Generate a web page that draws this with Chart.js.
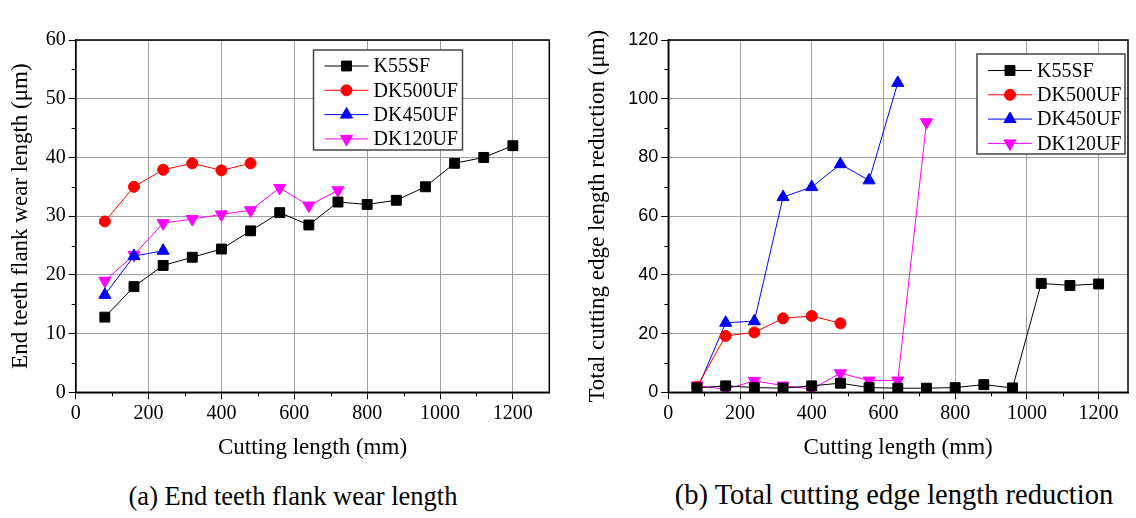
<!DOCTYPE html>
<html>
<head>
<meta charset="utf-8">
<title>Tool wear</title>
<script src="https://cdn.jsdelivr.net/npm/chart.js@4.4.1/dist/chart.umd.min.js"></script>
<style>
  body { margin: 0; background: #fff; width: 1136px; height: 518px; position: relative; overflow: hidden; font-family: "Liberation Serif", "Times New Roman", serif; }
  .wrap { position: absolute; top: 0; }
  #wrapA { left: 0; }
  #wrapB { left: 575px; }
  .cap { position: absolute; top: 481px; font-size: 26.5px; color: #000; white-space: nowrap; transform: translateX(-50%); }
  .cap.b { font-size: 28.5px; top: 479px; }
</style>
</head>
<body>
<div class="wrap" id="wrapA"><canvas id="chartA" width="560" height="464"></canvas></div>
<div class="wrap" id="wrapB"><canvas id="chartB" width="561" height="464"></canvas></div>
<div class="cap" style="left:293px">(a) End teeth flank wear length</div>
<div class="cap b" style="left:894px">(b) Total cutting edge length reduction</div>

<script>
// ---- data ----
const cutLength = [80, 160, 240, 320, 400, 480, 560, 640, 720, 800, 880, 960, 1040, 1120, 1200];
const seriesNames = ['K55SF', 'DK500UF', 'DK450UF', 'DK120UF'];

// (a) end teeth flank wear length, um
const wearK55SF   = [12.8, 18.0, 21.6, 23.0, 24.4, 27.5, 30.6, 28.5, 32.4, 32.0, 32.7, 35.0, 39.0, 40.0, 42.0];
const wearDK500UF = [29.1, 35.0, 37.9, 39.0, 37.8, 39.0];
const wearDK450UF = [16.6, 23.2, 24.1];
const wearDK120UF = [19.0, 23.4, 28.8, 29.5, 30.3, 31.0, 34.8, 31.8, 34.4];

// (b) total cutting edge length reduction, um
const redK55SF   = [1.5, 2.2, 1.6, 1.4, 2.2, 3.1, 1.6, 1.4, 1.4, 1.6, 2.6, 1.5, 37.1, 36.4, 36.9];
const redDK500UF = [1.9, 19.2, 20.4, 25.2, 26.0, 23.5];
const redDK450UF = [0.8, 23.7, 24.2, 66.5, 69.9, 77.7, 72.2, 105.4];
const redDK120UF = [2.3, 1.0, 3.9, 2.3, 1.1, 6.5, 4.0, 4.0, 92.0];

// tick labels
const xTicks = [0, 200, 400, 600, 800, 1000, 1200];
const wearTicks = [0, 10, 20, 30, 40, 50, 60];
const redTicks = [0, 20, 40, 60, 80, 100, 120];

// ---- styles ----
const seriesStyle = [
  { color: '#000000', pointStyle: 'rect',     radius: 7,   rotation: 0 },
  { color: '#ff0000', pointStyle: 'circle',   radius: 5.5, rotation: 0 },
  { color: '#0000ff', pointStyle: 'triangle', radius: 7,   rotation: 0 },
  { color: '#ff00ff', pointStyle: 'triangle', radius: 7,   rotation: 180 }
];
const SERIF = '"Liberation Serif", "Times New Roman", serif';
const SANS = '"Liberation Sans", Arial, sans-serif';

function makeDatasets(seriesList) {
  return seriesList.map((vals, i) => {
    const s = seriesStyle[i];
    return {
      label: seriesNames[i],
      data: vals.map((v, k) => ({ x: cutLength[k], y: v })),
      borderColor: s.color,
      backgroundColor: s.color,
      borderWidth: 1,
      pointStyle: s.pointStyle,
      pointRadius: s.radius,
      pointRotation: s.rotation,
      pointBackgroundColor: s.color,
      pointBorderColor: s.color,
      pointBorderWidth: 1,
      tension: 0
    };
  });
}

// frame round the plot + small outward minor ticks
const framePlugin = {
  id: 'frame',
  afterDraw(chart, args, o) {
    const { ctx, chartArea: a, scales } = chart;
    ctx.save();
    ctx.strokeStyle = '#000';
    ctx.lineWidth = 1;
    ctx.beginPath();
    for (let v = o.xMinor; v < scales.x.max; v += o.xMinor * 2) {
      const px = Math.round(scales.x.getPixelForValue(v)) + 0.5;
      ctx.moveTo(px, a.bottom);
      ctx.lineTo(px, a.bottom + 4);
    }
    for (let v = o.yMinor; v < scales.y.max; v += o.yMinor * 2) {
      const py = Math.round(scales.y.getPixelForValue(v)) + 0.5;
      ctx.moveTo(a.left, py);
      ctx.lineTo(a.left - 4, py);
    }
    ctx.stroke();
    ctx.lineWidth = 1.5;
    ctx.strokeRect(a.left, a.top, a.right - a.left, a.bottom - a.top);
    ctx.restore();
  }
};

// boxed legend inside the plot
const boxLegend = {
  id: 'boxLegend',
  afterDraw(chart, args, o) {
    const ctx = chart.ctx;
    ctx.save();
    ctx.fillStyle = '#fff';
    ctx.fillRect(o.x, o.y, o.w, o.h);
    ctx.strokeStyle = '#444';
    ctx.lineWidth = 1.5;
    ctx.strokeRect(o.x, o.y, o.w, o.h);
    chart.data.datasets.forEach((ds, i) => {
      const cy = o.y + o.first + i * o.row;
      ctx.strokeStyle = ds.borderColor;
      ctx.lineWidth = 1;
      ctx.beginPath();
      ctx.moveTo(o.x + 11, cy);
      ctx.lineTo(o.x + 55, cy);
      ctx.stroke();
      ctx.fillStyle = ds.pointBackgroundColor;
      Chart.helpers.drawPoint(ctx, {
        pointStyle: ds.pointStyle, radius: ds.pointRadius,
        rotation: ds.pointRotation, borderWidth: 1
      }, o.x + 33, cy);
      ctx.fillStyle = '#000';
      ctx.font = '20px ' + SERIF;
      ctx.textBaseline = 'middle';
      ctx.textAlign = 'left';
      ctx.fillText(ds.label, o.x + 60, cy + 1);
    });
    ctx.restore();
  }
};

function makeChart(id, cfg) {
  return new Chart(document.getElementById(id), {
    type: 'line',
    data: { datasets: makeDatasets(cfg.series) },
    plugins: [framePlugin, boxLegend],
    options: {
      responsive: false,
      animation: false,
      events: [],
      layout: { padding: { top: 40, right: cfg.padRight, left: 0, bottom: 0 } },
      plugins: {
        legend: { display: false },
        tooltip: { enabled: false },
        frame: { xMinor: 100, yMinor: cfg.yMinor },
        boxLegend: cfg.legend
      },
      scales: {
        x: {
          type: 'linear',
          min: 0,
          max: cfg.xMax,
          afterBuildTicks: s => { s.ticks = xTicks.map(v => ({ value: v })); },
          afterFit: s => { s.height = 464 - 392.3; },
          grid: { color: '#a0a0a0', lineWidth: 1, tickColor: '#000', tickLength: 7 },
          border: { display: true, color: '#000', width: 1.5 },
          ticks: { color: '#000', padding: 2, maxRotation: 0, callback: v => String(v), font: { family: SERIF, size: 20 } },
          title: {
            display: true, text: 'Cutting length (mm)', color: '#000',
            padding: { top: 0, bottom: 2 }, font: { family: SERIF, size: 23 }
          }
        },
        y: {
          min: 0,
          max: cfg.yTicks[cfg.yTicks.length - 1],
          afterBuildTicks: s => { s.ticks = cfg.yTicks.map(v => ({ value: v })); },
          afterFit: s => { s.width = cfg.areaLeft; },
          grid: { color: '#a0a0a0', lineWidth: 1, tickColor: '#000', tickLength: 7 },
          border: { display: true, color: '#000', width: 1.5 },
          ticks: { color: '#000', padding: 3, callback: v => String(v), font: { family: cfg.yFont, size: cfg.yFontSize } },
          title: {
            display: true, text: cfg.yTitle, color: '#000',
            padding: { top: cfg.yTitlePad, bottom: 0 }, font: { family: SERIF, size: 23 }
          }
        }
      }
    }
  });
}

makeChart('chartA', {
  series: [wearK55SF, wearDK500UF, wearDK450UF, wearDK120UF],
  xMax: 1300,
  padRight: 10.7,
  areaLeft: 75.7,
  yTicks: wearTicks,
  yMinor: 5,
  yFont: SERIF,
  yFontSize: 20,
  yTitle: 'End teeth flank wear length (\u03bcm)',
  yTitlePad: 7,
  legend: { x: 313.5, y: 50, w: 149, h: 100, first: 16, row: 24.3 }
});

makeChart('chartB', {
  series: [redK55SF, redDK500UF, redDK450UF, redDK120UF],
  xMax: 1282,
  padRight: 1,
  areaLeft: 93.3,
  yTicks: redTicks,
  yMinor: 10,
  yFont: SANS,
  yFontSize: 18,
  yTitle: 'Total cutting edge length reduction (\u03bcm)',
  yTitlePad: 9,
  legend: { x: 402, y: 54, w: 148, h: 100, first: 16.5, row: 24.3 }
});
</script>
</body>
</html>
